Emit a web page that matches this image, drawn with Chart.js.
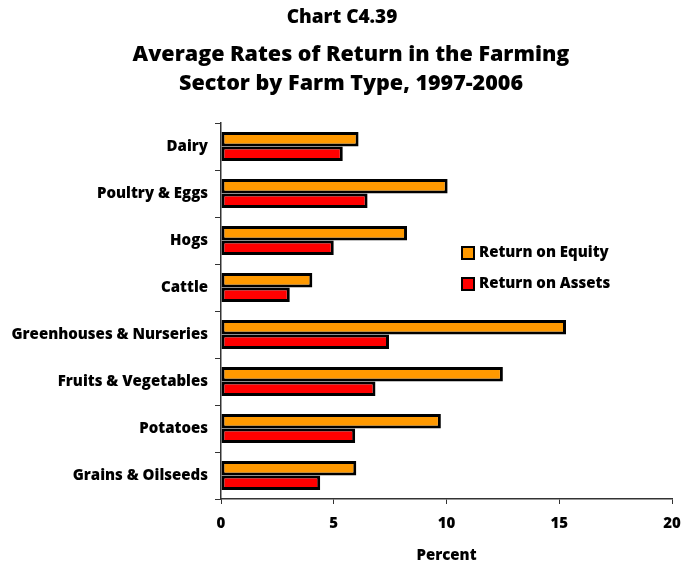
<!DOCTYPE html>
<html>
<head>
<meta charset="utf-8">
<script src="https://cdn.jsdelivr.net/npm/chart.js@4"></script>
<style>
  html, body { margin: 0; padding: 0; background: #fff; }
  #wrap { width: 684px; height: 565px; position: relative; font-family: "Open Sans", "DejaVu Sans", sans-serif; font-weight: 800; color: #000; }
  .ttl { position: absolute; left: 0; width: 684px; text-align: center; white-space: nowrap; }
  #t1 { top: 3px; font-size: 19px; line-height: 26px; }
  #t2 { top: 38px; left: 9px; font-size: 21.5px; line-height: 29px; }
  canvas { position: absolute; left: 0; top: 0; }
</style>
</head>
<body>
<div id="wrap">
  <canvas id="farmChart"></canvas>
  <div class="ttl" id="t1">Chart C4.39</div>
  <div class="ttl" id="t2">Average Rates of Return in the Farming<br>Sector by Farm Type, 1997-2006</div>
</div>
<script>
// data
const categories = ['Dairy', 'Poultry & Eggs', 'Hogs', 'Cattle', 'Greenhouses & Nurseries', 'Fruits & Vegetables', 'Potatoes', 'Grains & Oilseeds'];
const returnOnEquity = [6.1, 10.05, 8.25, 4.05, 15.3, 12.5, 9.75, 6.0];
const returnOnAssets = [5.4, 6.5, 5.0, 3.05, 7.45, 6.85, 5.95, 4.4];
const xTicks = [0, 5, 10, 15, 20];

const FONT = '"Open Sans", "DejaVu Sans", sans-serif';
const HEAVY = 800;

// legend drawn inside the plot, to the right of the Hogs/Cattle bars
const insideLegend = {
    id: 'insideLegend',
    afterDraw(chart) {
        const ctx = chart.ctx;
        const area = chart.chartArea;
        const x0 = area.left + 241;
        let y = area.top + 130;
        ctx.save();
        ctx.font = HEAVY + ' 15px ' + FONT;
        ctx.textBaseline = 'middle';
        chart.data.datasets.forEach(ds => {
            ctx.fillStyle = ds.backgroundColor;
            ctx.fillRect(x0, y - 6, 12, 12);
            ctx.lineWidth = 2;
            ctx.strokeStyle = '#000';
            ctx.strokeRect(x0, y - 6, 12, 12);
            ctx.fillStyle = '#000';
            ctx.fillText(ds.label, x0 + 17, y);
            y += 31;
        });
        ctx.restore();
    }
};

Chart.defaults.font.family = FONT;
Chart.defaults.color = '#000';

new Chart(document.getElementById('farmChart'), {
    type: 'bar',
    data: {
        labels: categories,
        datasets: [{
            label: 'Return on Equity',
            data: returnOnEquity,
            backgroundColor: '#FF9900',
            borderColor: '#000',
            borderWidth: 3,
            borderSkipped: false
        }, {
            label: 'Return on Assets',
            data: returnOnAssets,
            backgroundColor: '#FF0000',
            borderColor: '#000',
            borderWidth: 3,
            borderSkipped: false
        }]
    },
    options: {
        indexAxis: 'y',
        responsive: true,
        maintainAspectRatio: false,
        animation: false,
        datasets: {
            bar: { categoryPercentage: 0.62, barPercentage: 1.0 }
        },
        layout: { padding: { left: 0, right: 0, top: 123, bottom: 0 } },
        plugins: {
            legend: { display: false },
            tooltip: { enabled: false }
        },
        scales: {
            x: {
                min: 0,
                max: 20,
                afterBuildTicks(axis) {
                    axis.ticks = xTicks.map(v => ({ value: v }));
                },
                afterFit(axis) {
                    axis.paddingRight = 12;
                    axis.paddingLeft = 0;
                },
                grid: {
                    drawOnChartArea: false,
                    drawTicks: true,
                    tickLength: 5,
                    color: '#333'
                },
                border: { color: '#333', width: 1.5 },
                ticks: {
                    font: { size: 15, weight: HEAVY },
                    padding: 11
                },
                title: {
                    display: true,
                    text: 'Percent',
                    font: { size: 15, weight: HEAVY },
                    padding: { top: 3, bottom: 0 }
                }
            },
            y: {
                afterFit(axis) { axis.width = 221; },
                grid: {
                    drawOnChartArea: false,
                    drawTicks: true,
                    tickLength: 6,
                    offset: true,
                    color: '#333'
                },
                border: { color: '#333', width: 1.5 },
                ticks: {
                    font: { size: 15, weight: HEAVY },
                    padding: 7
                }
            }
        }
    },
    plugins: [insideLegend]
});
</script>
</body>
</html>
